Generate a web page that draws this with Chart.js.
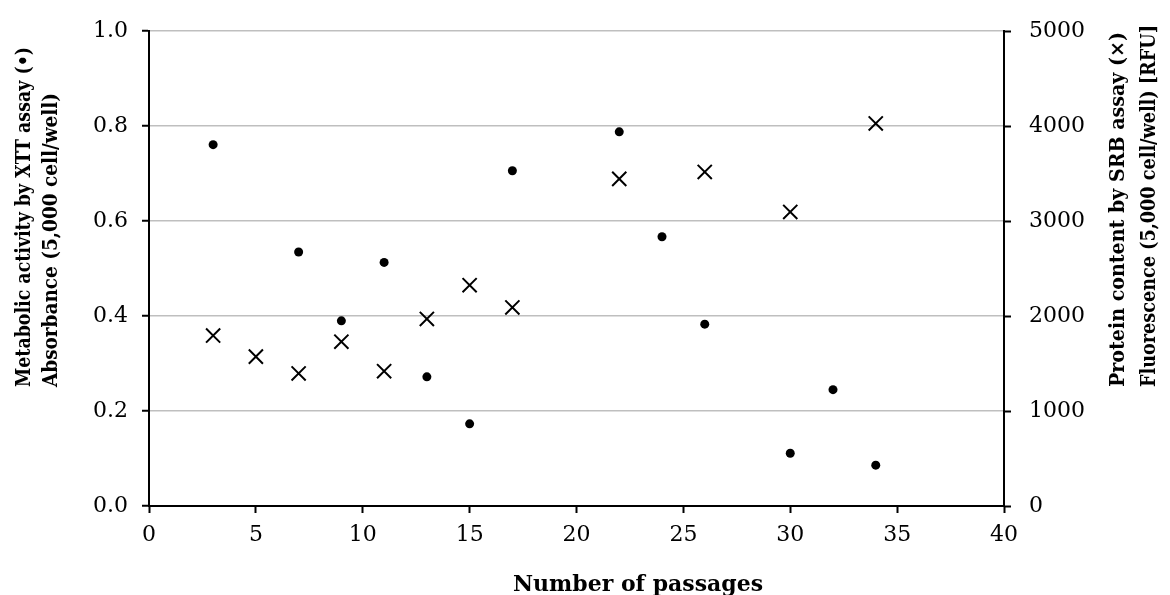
<!DOCTYPE html>
<html>
<head>
<meta charset="utf-8">
<script src="https://cdn.jsdelivr.net/npm/chart.js@4"></script>
<style>
  html, body { margin: 0; padding: 0; background: #fff; }
  #wrap { width: 1170px; height: 595px; position: relative; }
</style>
</head>
<body>
<div id="wrap"><canvas id="chart"></canvas></div>
<script>
// --- Data ---
const xttPassages = [3, 7, 9, 11, 13, 15, 17, 22, 24, 26, 30, 32, 34];
const xttAbsorbance = [0.761, 0.535, 0.390, 0.513, 0.272, 0.173, 0.706, 0.788, 0.567, 0.383, 0.111, 0.245, 0.086];
const srbPassages = [3, 5, 7, 9, 11, 13, 15, 17, 22, 26, 30, 34];
const srbFluorescence = [1795, 1573, 1396, 1730, 1420, 1970, 2325, 2091, 3445, 3518, 3097, 4029];
const xTicks = [0, 5, 10, 15, 20, 25, 30, 35, 40];
const leftTicks = [0, 0.2, 0.4, 0.6, 0.8, 1.0];
const rightTicks = [0, 1000, 2000, 3000, 4000, 5000];

const xTitle = 'Number of passages';
const leftTitle = ['Metabolic activity by XTT assay (\u2022)', 'Absorbance (5,000 cell/well)'];
const rightTitle = ['Protein content by SRB assay (\u00d7)', 'Fluorescence (5,000 cell/well) [RFU]'];

const FAMILY = "'DejaVu Serif', 'Liberation Serif', serif";
const tickFont = { family: FAMILY, size: 22 };

// --- Axis titles (drawn by hand so lines start-align like the original) ---
// each line is drawn at a fixed size and squeezed along its length to the span it has in the picture
function drawVertical(ctx, lines, xs, yStart, size, spans) {
    ctx.font = `bold ${size}px ${FAMILY}`;
    ctx.textAlign = 'left'; ctx.textBaseline = 'middle';
    lines.forEach((t, i) => {
        const k = spans[i] / ctx.measureText(t).width;
        ctx.save(); ctx.translate(xs[i], yStart); ctx.rotate(-Math.PI / 2); ctx.scale(k, 1);
        ctx.fillText(t, 0, 0); ctx.restore();
    });
}
const titlePlugin = {
    id: 'titles',
    afterDraw(chart) {
        const ctx = chart.ctx;
        ctx.save(); ctx.fillStyle = '#000';
        drawVertical(ctx, leftTitle, [25, 52], 387, 20, [340, 294]);
        drawVertical(ctx, rightTitle, [1119, 1150], 387, 20, [355, 362]);
        ctx.font = `bold 22px ${FAMILY}`;
        const k = 250 / ctx.measureText(xTitle).width;
        ctx.textAlign = 'center'; ctx.textBaseline = 'alphabetic';
        ctx.translate(638, 591); ctx.scale(k, 1);
        ctx.fillText(xTitle, 0, 0);
        ctx.restore();
    }
};

// --- Chart ---
new Chart(document.getElementById('chart'), {
    type: 'scatter',
    data: {
        datasets: [
            {
                label: 'XTT', yAxisID: 'y',
                data: xttPassages.map((x, i) => ({ x: x, y: xttAbsorbance[i] })),
                pointStyle: 'circle', pointRadius: 4.5,
                backgroundColor: '#000', borderColor: '#000', borderWidth: 0
            },
            {
                label: 'SRB', yAxisID: 'y2',
                data: srbPassages.map((x, i) => ({ x: x, y: srbFluorescence[i] })),
                pointStyle: 'crossRot', pointRadius: 10,
                backgroundColor: '#000', borderColor: '#000', borderWidth: 2
            }
        ]
    },
    options: {
        responsive: true, maintainAspectRatio: false, animation: false,
        layout: { padding: { top: 27, left: 0, right: 0, bottom: 0 } },
        plugins: { legend: { display: false }, tooltip: { enabled: false } },
        scales: {
            x: {
                type: 'linear', min: xTicks[0], max: xTicks[xTicks.length - 1],
                afterBuildTicks: s => { s.ticks = xTicks.map(v => ({ value: v })); },
                afterFit: s => { s.height = 89; },
                ticks: { font: tickFont, color: '#000', padding: 9, maxRotation: 0 },
                grid: { drawOnChartArea: false, drawTicks: true, tickLength: 7, tickColor: '#000', tickWidth: 2 },
                border: { color: '#000', width: 2 }
            },
            y: {
                position: 'left', min: leftTicks[0], max: leftTicks[leftTicks.length - 1],
                afterBuildTicks: s => { s.ticks = leftTicks.map(v => ({ value: v })); },
                afterFit: s => { s.width = 149; },
                ticks: { font: tickFont, color: '#000', padding: 14, callback: v => v.toFixed(1) },
                grid: { color: '#bfbfbf', lineWidth: 1.5, tickLength: 7, tickColor: '#000', tickWidth: 2 },
                border: { color: '#000', width: 2 }
            },
            y2: {
                position: 'right', min: rightTicks[0], max: rightTicks[rightTicks.length - 1],
                afterBuildTicks: s => { s.ticks = rightTicks.map(v => ({ value: v })); },
                afterFit: s => { s.width = 166; },
                ticks: { font: tickFont, color: '#000', padding: 18, callback: v => String(v) },
                grid: { drawOnChartArea: false, tickLength: 7, tickColor: '#000', tickWidth: 2 },
                border: { color: '#000', width: 2 }
            }
        }
    },
    plugins: [titlePlugin]
});
</script>
</body>
</html>
